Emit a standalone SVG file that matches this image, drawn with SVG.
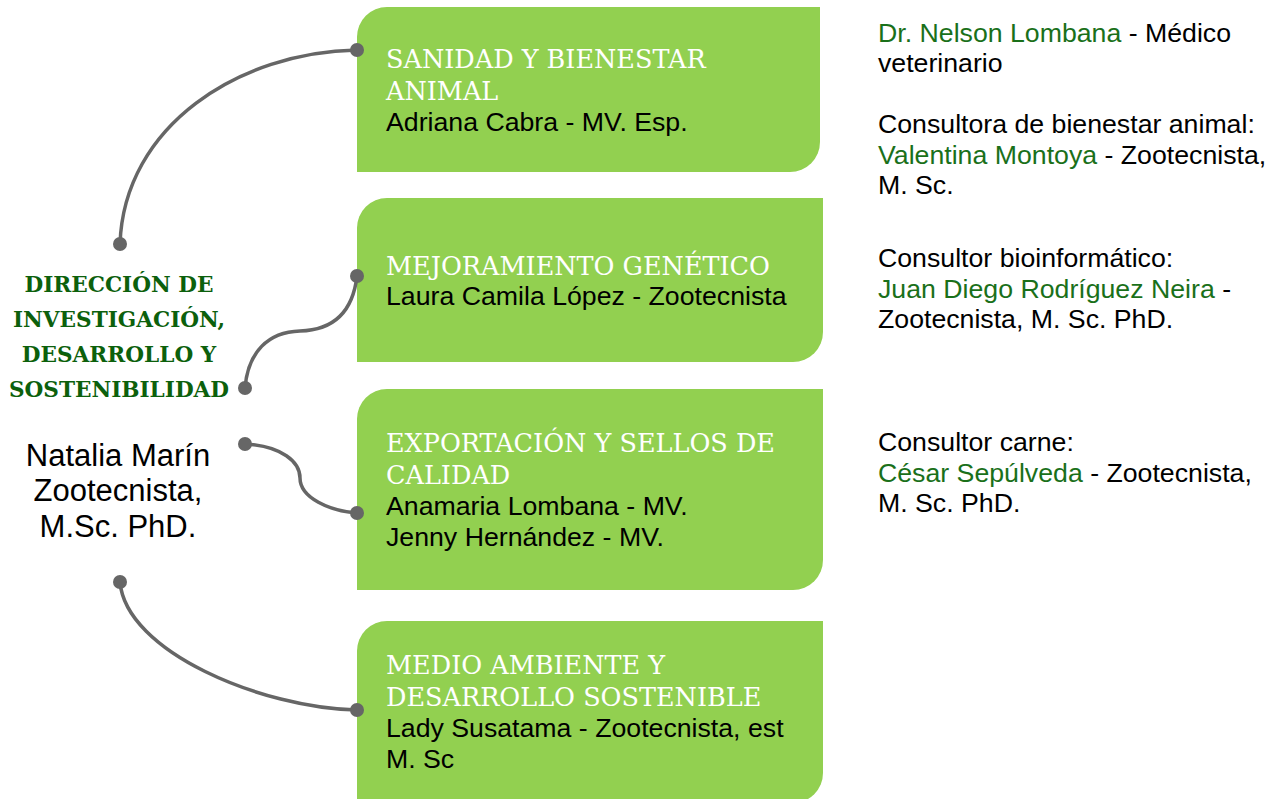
<svg xmlns="http://www.w3.org/2000/svg" width="1280" height="799" viewBox="0 0 1280 799">
<style>
.box{fill:#92d050}
.title{font-family:"DejaVu Serif","Liberation Serif",serif;font-size:25.5px;fill:#ffffff}
.body{font-family:"Liberation Sans",Arial,sans-serif;font-size:26.7px;fill:#000000}
.g{fill:#1a701a}
.head{font-family:"DejaVu Serif","Liberation Serif",serif;font-weight:bold;font-size:21.6px;fill:#0c600c;text-anchor:middle}
.name{font-family:"Liberation Sans",Arial,sans-serif;font-size:31px;fill:#000000;text-anchor:middle}
.conn{fill:none;stroke:#666666;stroke-width:3.5;stroke-linecap:round}
.dot{fill:#666666}
</style>
<rect width="1280" height="799" fill="#ffffff"/>
<g id="director">
<text class="head"><tspan x="119" y="292">DIRECCIÓN DE</tspan><tspan x="119" y="327">INVESTIGACIÓN,</tspan><tspan x="119" y="362">DESARROLLO Y</tspan><tspan x="119" y="397">SOSTENIBILIDAD</tspan></text>
<text class="name"><tspan x="118" y="466">Natalia Marín</tspan><tspan x="118" y="501">Zootecnista,</tspan><tspan x="118" y="537">M.Sc. PhD.</tspan></text>
</g>
<g id="sanidad">
<path class="box" d="M387,7 H820 V142 A30,30 0 0 1 790,172 H357 V37 A30,30 0 0 1 387,7 Z"/>
<text class="title"><tspan x="386" y="68">SANIDAD Y BIENESTAR</tspan><tspan x="386" y="100">ANIMAL</tspan></text>
<text class="body" x="386" y="131">Adriana Cabra - MV. Esp.</text>
</g>
<g id="mejoramiento">
<path class="box" d="M387,198 H823 V332 A30,30 0 0 1 793,362 H357 V228 A30,30 0 0 1 387,198 Z"/>
<text class="title" x="386" y="275">MEJORAMIENTO GENÉTICO</text>
<text class="body" x="386" y="305">Laura Camila López - Zootecnista</text>
</g>
<g id="exportacion">
<path class="box" d="M387,389 H823 V560 A30,30 0 0 1 793,590 H357 V419 A30,30 0 0 1 387,389 Z"/>
<text class="title"><tspan x="386" y="452">EXPORTACIÓN Y SELLOS DE</tspan><tspan x="386" y="484">CALIDAD</tspan></text>
<text class="body"><tspan x="386" y="515">Anamaria Lombana - MV.</tspan><tspan x="386" y="546">Jenny Hernández - MV.</tspan></text>
</g>
<g id="medio">
<path class="box" d="M387,621 H823 V773 A30,30 0 0 1 793,803 H357 V651 A30,30 0 0 1 387,621 Z"/>
<text class="title"><tspan x="386" y="674">MEDIO AMBIENTE Y</tspan><tspan x="386" y="706">DESARROLLO SOSTENIBLE</tspan></text>
<text class="body"><tspan x="386" y="737">Lady Susatama - Zootecnista, est</tspan><tspan x="386" y="768">M. Sc</tspan></text>
</g>
<g id="consultores">
<text class="body"><tspan x="878" y="42"><tspan class="g">Dr. Nelson Lombana</tspan> - Médico</tspan><tspan x="878" y="72">veterinario</tspan></text>
<text class="body"><tspan x="878" y="133">Consultora de bienestar animal:</tspan><tspan x="878" y="164"><tspan class="g">Valentina Montoya</tspan> - Zootecnista,</tspan><tspan x="878" y="194">M. Sc.</tspan></text>
<text class="body"><tspan x="878" y="267">Consultor bioinformático:</tspan><tspan x="878" y="298"><tspan class="g">Juan Diego Rodríguez Neira</tspan> -</tspan><tspan x="878" y="328">Zootecnista, M. Sc. PhD.</tspan></text>
<text class="body"><tspan x="878" y="451">Consultor carne:</tspan><tspan x="878" y="482"><tspan class="g">César Sepúlveda</tspan> - Zootecnista,</tspan><tspan x="878" y="512">M. Sc. PhD.</tspan></text>
</g>
<g id="connectors">
<path class="conn" d="M120,244 C124,125 240,52 357,50"/>
<path class="conn" d="M245,388 C248,352 268,332 300,331 C336,330 353,310 357,276"/>
<path class="conn" d="M245,444 C282,446 300,462 300,478 C300,498 330,511 357,513"/>
<path class="conn" d="M120,582 C126,652 262,708 357,710"/>
<circle class="dot" cx="120" cy="244" r="7"/>
<circle class="dot" cx="357" cy="50" r="7"/>
<circle class="dot" cx="245" cy="388" r="7"/>
<circle class="dot" cx="357" cy="276" r="7"/>
<circle class="dot" cx="245" cy="444" r="7"/>
<circle class="dot" cx="357" cy="513" r="7"/>
<circle class="dot" cx="120" cy="582" r="7"/>
<circle class="dot" cx="357" cy="710" r="7"/>
</g>
</svg>
